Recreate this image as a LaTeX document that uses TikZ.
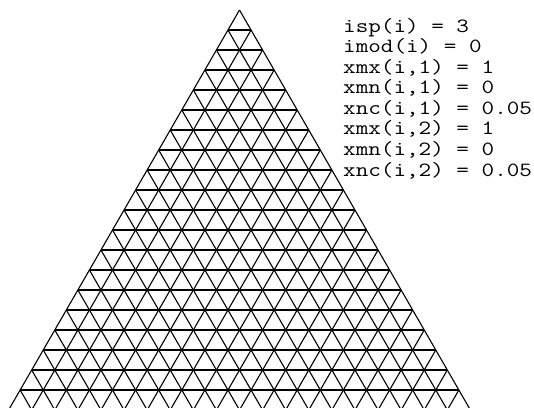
\documentclass[tikz,border=0pt]{standalone}
\usepackage{graphicx}
\usetikzlibrary{calc}
\newcommand\widetxt[1]{\scalebox{1.21}[1]{#1}}
\begin{document}
\begin{tikzpicture}[x=1pt,y=-1pt,
  gridline/.style={line width=1.1pt, draw=black},
  lbl/.style={anchor=base west, inner sep=0pt, font=\ttfamily\fontsize{20.2}{20.2}\selectfont}]
\useasboundingbox (0,0) rectangle (534,407);
\begin{scope}
\clip (0,0) rectangle (534,407);
\coordinate (A) at (239.5,10);
\coordinate (L) at (8.6,410);
\coordinate (R) at (470.4,410);
\foreach \k in {1,...,20} {
  \draw[gridline] ($(A)!\k/20!(L)$) -- ($(A)!\k/20!(R)$);
}
\foreach \k in {0,...,19} {
  \draw[gridline] ($(A)!\k/20!(L)$) -- ($(R)!\k/20!(L)$);
  \draw[gridline] ($(A)!\k/20!(R)$) -- ($(L)!\k/20!(R)$);
}
\end{scope}
\node[lbl] (t1) at (343,32) {\widetxt{isp(i) = 3}};
\node[lbl] (t2) at (343,52.57) {\widetxt{imod(i) = 0}};
\node[lbl] (t3) at (343,73.14) {\widetxt{xmx(i,1) = 1}};
\node[lbl] (t4) at (343,93.71) {\widetxt{xmn(i,1) = 0}};
\node[lbl] (t5) at (343,114.29) {\widetxt{xnc(i,1) = 0.05}};
\node[lbl] (t6) at (343,134.86) {\widetxt{xmx(i,2) = 1}};
\node[lbl] (t7) at (343,155.43) {\widetxt{xmn(i,2) = 0}};
\node[lbl] (t8) at (343,176) {\widetxt{xnc(i,2) = 0.05}};
\end{tikzpicture}
\end{document}
